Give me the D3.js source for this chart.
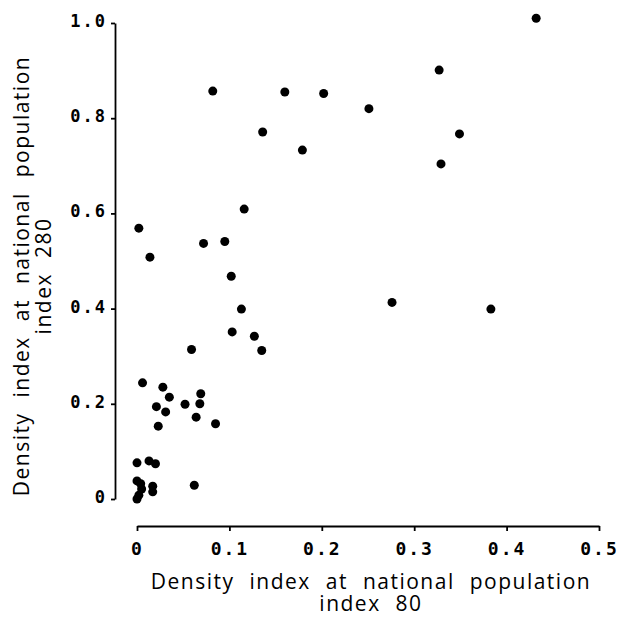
<!DOCTYPE html>
<html>
<head>
<meta charset="utf-8">
<script src="https://cdn.jsdelivr.net/npm/d3@7"></script>
<style>
  body { margin: 0; background: #fff; }
  svg { display: block; }
  .tick text { font-family: "DejaVu Sans Mono", monospace; font-weight: bold; letter-spacing: 2px; fill: #000; }
  .axis path, .axis line { stroke: #000; stroke-width: 1.8; }
  .title { font-family: "Open Sans", "DejaVu Sans", sans-serif; font-size: 21px; fill: #000; letter-spacing: 1.5px; word-spacing: 8px; }
</style>
</head>
<body>
<svg width="620" height="619"></svg>
<script>
// DATA

var xVals = [0.006, 0.028, 0.035, 0.069, 0.021, 0.031, 0.052, 0.068, 0.064, 0.023,
             0.085, 0.000, 0.013, 0.020, 0.062, 0.000, 0.004, 0.005, 0.002, 0.000,
             0.017, 0.017, 0.116, 0.002, 0.072, 0.095, 0.014, 0.102, 0.113, 0.103,
             0.127, 0.059, 0.135, 0.082, 0.160, 0.136, 0.179, 0.432, 0.327, 0.202,
             0.251, 0.349, 0.329, 0.276, 0.383];
var yVals = [0.244, 0.235, 0.214, 0.221, 0.194, 0.183, 0.199, 0.200, 0.172, 0.153,
             0.158, 0.076, 0.080, 0.074, 0.029, 0.038, 0.032, 0.021, 0.008, 0.000,
             0.027, 0.015, 0.609, 0.569, 0.537, 0.541, 0.508, 0.468, 0.399, 0.351,
             0.342, 0.314, 0.312, 0.857, 0.855, 0.771, 0.733, 1.010, 0.901, 0.852,
             0.820, 0.767, 0.704, 0.413, 0.399];

var xTicks = [0, 0.1, 0.2, 0.3, 0.4, 0.5];
var xTickLabels = ["0", "0.1", "0.2", "0.3", "0.4", "0.5"];
var yTicks = [0, 0.2, 0.4, 0.6, 0.8, 1.0];
var yTickLabels = ["0", "0.2", "0.4", "0.6", "0.8", "1.0"];

var xTitle = ["Density index at national population", "index 80"];
var yTitle = ["Density index at national population", "index 280"];

// SETUP

var svg = d3.select("svg");

var x = d3.scaleLinear().domain([0, 0.5]).range([137, 599]),
    y = d3.scaleLinear().domain([0, 1]).range([499, 23]);

var points = xVals.map(function (d, i) { return { x: d, y: yVals[i] }; });

// AXES

svg.append("g")
    .attr("class", "axis axis--x")
    .attr("transform", "translate(0,526)")
    .call(d3.axisBottom(x)
        .tickValues(xTicks)
        .tickFormat(function (d, i) { return xTickLabels[i]; })
        .tickSize(5)
        .tickSizeOuter(0)
        .tickPadding(11))
    .selectAll(".tick text")
    .style("font-size", "18px");

svg.append("g")
    .attr("class", "axis axis--y")
    .attr("transform", "translate(115,0)")
    .call(d3.axisLeft(y)
        .tickValues(yTicks)
        .tickFormat(function (d, i) { return yTickLabels[i]; })
        .tickSize(4)
        .tickSizeOuter(0)
        .tickPadding(4))
    .selectAll(".tick text")
    .style("font-size", "17px")
    .attr("dy", "0.2em");

// TITLES

svg.selectAll(".xtitle")
    .data(xTitle)
    .enter().append("text")
    .attr("class", "title xtitle")
    .attr("x", 371)
    .attr("y", function (d, i) { return 589 + i * 22; })
    .attr("text-anchor", "middle")
    .text(function (d) { return d; });

svg.selectAll(".ytitle")
    .data(yTitle)
    .enter().append("text")
    .attr("class", "title ytitle")
    .attr("transform", function (d, i) { return "translate(" + (29 + i * 22) + ",276) rotate(-90)"; })
    .attr("text-anchor", "middle")
    .text(function (d) { return d; });

// POINTS

svg.selectAll(".dot")
    .data(points)
    .enter().append("circle")
    .attr("class", "dot")
    .attr("cx", function (d) { return x(d.x); })
    .attr("cy", function (d) { return y(d.y); })
    .attr("r", 4.5)
    .attr("fill", "#000");
</script>
</body>
</html>
